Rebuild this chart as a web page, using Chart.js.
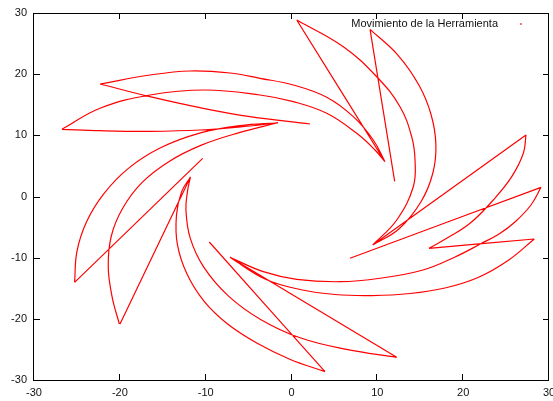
<!DOCTYPE html>
<html>
<head>
<meta charset="utf-8">
<script src="https://cdn.jsdelivr.net/npm/chart.js"></script>
<style>
  body { margin: 0; background: #fff; }
  #wrap { width: 553px; height: 401px; }
</style>
</head>
<body>
<div id="wrap"><canvas id="grafica" width="553" height="401"></canvas></div>
<script>
// Tramos rectos: punto interior -> punta del alabe
const rectaTL1 = [[2.16, 11.85], [-4.84, 13.05], [-10.66, 14.52], [-16.49, 16.32], [-22.31, 18.39]];
const rectaTL2 = [[-1.57, 12.06], [-4.84, 11.53], [-10.66, 10.87], [-16.49, 10.66], [-22.31, 10.76], [-26.74, 10.99]];
const rectaTR1 = [[10.89, 5.69], [0.61, 28.85]];
const rectaTR2 = [[12.02, 2.48], [9.15, 27.33]];
const rectaR1 = [[9.46, -7.93], [27.32, 10.05]];
const rectaR2 = [[6.82, -10.10], [29.07, 1.50]];
const rectaR3 = [[16.02, -8.47], [28.29, -6.95]];
const rectaB1 = [[-7.17, -9.94], [12.26, -26.29]];
const rectaB2 = [[-9.58, -7.44], [3.90, -28.64]];
const rectaL1 = [[-11.77, 3.19], [-19.98, -20.84]];
const rectaL2 = [[-10.35, 6.24], [-25.27, -14.03]];

// Arcos de retorno: punta -> siguiente punto interior
const arcoA = [[-22.31, 18.39], [-16.49, 19.86], [-11.83, 20.52], [-7.17, 20.19], [-3.67, 19.32], [0.21, 18.23], [4.10, 16.22], [7.20, 13.05], [9.53, 9.24], [10.89, 5.69]];
const arcoB = [[-26.74, 10.99], [-22.31, 14.42], [-16.49, 16.59], [-10.08, 17.41], [-3.67, 16.59], [0.21, 15.50], [4.10, 13.60], [7.60, 10.33], [9.73, 7.60], [10.89, 5.69]];
const arcoC = [[0.61, 28.85], [6.04, 24.49], [9.93, 19.58], [12.64, 14.68], [14.00, 9.78], [14.39, 5.97], [14.19, 1.60], [12.26, -3.84], [9.46, -7.93]];
const arcoD = [[9.15, 27.33], [12.39, 23.13], [14.84, 18.23], [16.24, 13.49], [16.82, 8.58], [16.47, 3.84], [15.07, -0.90], [12.51, -5.31], [9.46, -7.93]];
const arcoE = [[27.32, 10.05], [27.01, 7.06], [25.66, 3.24], [23.51, -0.57], [20.80, -4.38], [18.08, -6.83], [16.02, -8.47]];
const arcoF = [[29.07, 1.50], [27.90, -1.39], [26.04, -4.17], [24.18, -6.13], [22.16, -7.65], [19.05, -9.89], [15.32, -12.02], [10.31, -13.37], [5.65, -13.93], [0.61, -13.54], [-3.29, -12.29], [-7.17, -9.94]];
const arcoG = [[28.29, -6.95], [25.23, -10.46], [21.73, -13.24], [17.88, -14.96], [13.81, -15.86], [9.38, -16.19], [5.07, -16.02], [0.99, -15.20], [-3.09, -13.49], [-7.17, -9.94]];
const arcoH = [[12.26, -26.29], [6.40, -25.00], [1.00, -23.10], [-3.60, -20.10], [-7.40, -16.20], [-10.20, -11.60], [-11.80, -6.80], [-12.30, -2.20], [-12.10, 1.00], [-11.77, 3.19]];
const arcoI = [[3.90, -28.64], [-0.20, -26.60], [-4.00, -24.00], [-7.40, -20.90], [-10.20, -17.10], [-12.20, -12.60], [-13.30, -7.80], [-13.40, -3.00], [-12.80, 0.80], [-11.77, 3.19]];
const arcoJ = [[-25.27, -14.03], [-25.00, -9.00], [-23.90, -4.20], [-21.90, 0.40], [-19.00, 4.60], [-15.20, 8.00], [-10.60, 10.40], [-6.00, 11.60], [-1.57, 12.06]];
const arcoK = [[-20.06, -20.84], [-20.90, -16.40], [-21.35, -11.50], [-21.00, -6.50], [-19.70, -2.00], [-17.40, 2.30], [-14.30, 5.70], [-10.50, 8.40], [-6.20, 10.40], [-1.57, 12.06]];

const marcas = [-30, -20, -10, 0, 10, 20, 30];
const etiqueta = 'Movimiento de la Herramienta';

const tramos = [
    rectaTL1, rectaTL2, arcoA, arcoB,
    rectaTR1, rectaTR2, arcoC, arcoD,
    rectaR1, rectaR2, arcoE, rectaR3, arcoF, arcoG,
    rectaB1, rectaB2, arcoH, arcoI,
    rectaL1, rectaL2, arcoJ, arcoK
];

// un solo trazo, cada tramo separado por un hueco
let puntos = [];
for (let i = 0; i < tramos.length; i++) {
    tramos[i].forEach(p => puntos.push({x: p[0], y: p[1]}));
    puntos.push({x: null, y: null});
}

const fuente = {family: "'Liberation Sans', Arial, sans-serif", size: 11};

// marco con marcas hacia dentro en los cuatro lados
const marco = {
    id: 'marco',
    afterDraw(chart) {
        const {ctx, chartArea: a, scales: {x, y}} = chart;
        const l = 6;
        ctx.save();
        ctx.strokeStyle = '#000';
        ctx.lineWidth = 1;
        ctx.strokeRect(a.left - 0.5, a.top + 0.5, a.right - a.left, a.bottom - a.top);
        ctx.beginPath();
        marcas.forEach(v => {
            let px = Math.round(x.getPixelForValue(v)) - 0.5;
            ctx.moveTo(px, a.bottom); ctx.lineTo(px, a.bottom - l);
            ctx.moveTo(px, a.top); ctx.lineTo(px, a.top + l);
            let py = Math.round(y.getPixelForValue(v)) + 0.5;
            ctx.moveTo(a.left, py); ctx.lineTo(a.left + l, py);
            ctx.moveTo(a.right, py); ctx.lineTo(a.right - l, py);
        });
        ctx.stroke();

        // leyenda: texto a la izquierda y muestra a la derecha
        ctx.font = "11px 'Liberation Sans', Arial, sans-serif";
        ctx.fillStyle = '#111';
        ctx.textAlign = 'right';
        ctx.textBaseline = 'middle';
        ctx.fillText(etiqueta, a.right - 51, a.top + 11);
        ctx.fillStyle = 'rgba(255,0,0,0.55)';
        ctx.fillRect(a.right - 29, a.top + 10, 2, 2);
        ctx.restore();
    }
};

new Chart(document.getElementById('grafica'), {
    type: 'scatter',
    data: {
        datasets: [{
            label: etiqueta,
            data: puntos,
            showLine: true,
            spanGaps: false,
            tension: 0.4,
            borderColor: '#ff0000',
            borderWidth: 1.2,
            pointRadius: 0,
            pointHoverRadius: 0
        }]
    },
    options: {
        responsive: false,
        animation: false,
        layout: {padding: {top: 13, right: 4, left: 0, bottom: 0}},
        plugins: {legend: {display: false}, tooltip: {enabled: false}},
        scales: {
            x: {
                type: 'linear',
                min: -30, max: 30,
                grid: {display: false, drawTicks: false},
                border: {display: false},
                ticks: {stepSize: 10, padding: 6, color: '#111', font: fuente, maxRotation: 0},
                afterFit(s) { s.height = 21; s.paddingLeft = 0; s.paddingRight = 0; }
            },
            y: {
                type: 'linear',
                min: -30, max: 30,
                grid: {display: false, drawTicks: false},
                border: {display: false},
                ticks: {stepSize: 10, padding: 7, color: '#111', font: fuente},
                afterFit(s) { s.width = 34; s.paddingTop = 0; s.paddingBottom = 0; }
            }
        }
    },
    plugins: [marco]
});
</script>
</body>
</html>
